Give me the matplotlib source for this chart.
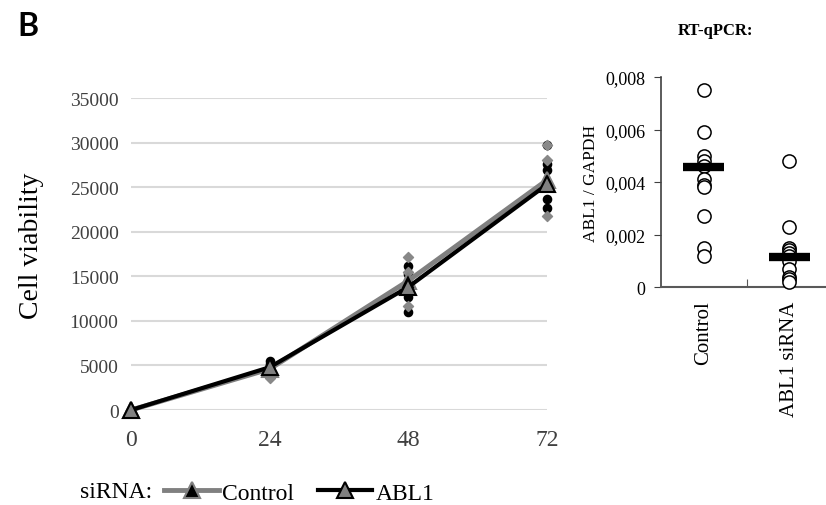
import matplotlib

matplotlib.use("Agg")
import matplotlib.pyplot as plt
from matplotlib.lines import Line2D

plt.rcParams["font.family"] = ["Liberation Serif", "DejaVu Serif"]

# growth curve data
hours = [0, 24, 48, 72]
control_mean = [0, 4600, 14500, 25800]
abl1_mean = [0, 4800, 13800, 25300]

control_points = {
    0: [0, 0, 0],
    24: [3600, 4200, 4500],
    48: [17200, 15500, 11700],
    72: [29700, 28000, 21800],
}
abl1_points = {
    0: [0, 0, 0, 0],
    24: [5500, 5200, 4900, 4600],
    48: [16200, 15300, 12700, 11000],
    72: [29700, 27600, 26900, 23700, 22700],
}

# RT-qPCR data
groups = ["Control", "ABL1 siRNA"]
qpcr_control = [0.0075, 0.0059, 0.0050, 0.0048, 0.0046, 0.0041, 0.0039, 0.0038,
                0.0027, 0.0015, 0.0012]
qpcr_abl1 = [0.0048, 0.0023, 0.0015, 0.0014, 0.0013, 0.0012, 0.0010, 0.0007,
             0.0004, 0.0003, 0.0002]
qpcr_bar = [0.00456, 0.00113]

fig = plt.figure(figsize=(8.26, 5.06), dpi=100)

# left panel
ax = fig.add_axes([0.1586, 0.1877, 0.5036, 0.6166])
for spine in ax.spines.values():
    spine.set_visible(False)
ax.set_xlim(0, 72)
ax.set_ylim(0, 35000)
ax.set_yticks(range(0, 35001, 5000))
ax.set_xticks(hours)
ax.yaxis.grid(True, color="#d9d9d9", lw=1.5)
ax.set_axisbelow(True)
ax.tick_params(length=0)
ax.tick_params(axis="y", labelsize=14, labelcolor="#404040", pad=9)
ax.tick_params(axis="x", labelsize=17, labelcolor="#404040", pad=14)
ax.set_ylabel("Cell viability", fontsize=20)
ax.yaxis.set_label_coords(-0.21, 0.53)

for h in hours:
    ax.scatter([h] * len(abl1_points[h]), abl1_points[h], s=35, marker="o",
               color="black", zorder=3, clip_on=False)
    ax.scatter([h] * len(control_points[h]), control_points[h], s=26, marker="D",
               color="#888888", zorder=4, clip_on=False)

ax.plot(hours, control_mean, color="#808080", lw=3.5, marker="^", ms=11,
        mfc="black", mec="#808080", mew=1.5, zorder=5, clip_on=False)
ax.plot(hours, abl1_mean, color="black", lw=3, marker="^", ms=11,
        mfc="#808080", mec="black", mew=1.5, zorder=6, clip_on=False)

# legend
fig.text(0.097, 0.016, "siRNA:", fontsize=17, va="baseline")
handles = [
    Line2D([], [], color="#808080", lw=3.5, marker="^", ms=11, mfc="black",
           mec="#808080", mew=1.5),
    Line2D([], [], color="black", lw=3, marker="^", ms=11, mfc="#808080",
           mec="black", mew=1.5),
]
fig.legend(handles, ["Control", "ABL1"], loc="center left",
           bbox_to_anchor=(0.199, 0.024), ncol=2, frameon=False, fontsize=17,
           handlelength=2.3, handletextpad=0.15, columnspacing=1.0,
           borderaxespad=0, borderpad=0)

# right panel
ax2 = fig.add_axes([0.8002, 0.4308, 0.2, 0.415])
ax2.set_xlim(0, 1.93)
ax2.set_ylim(0, 0.008)
ax2.spines["top"].set_visible(False)
ax2.spines["right"].set_visible(False)
ax2.spines["left"].set_color("#404040")
ax2.spines["bottom"].set_color("#595959")
ax2.spines["left"].set_linewidth(1.2)
ax2.spines["bottom"].set_linewidth(1.5)
ax2.set_yticks([0, 0.002, 0.004, 0.006, 0.008])
ax2.set_yticklabels(["0", "0,002", "0,004", "0,006", "0,008"])
ax2.tick_params(axis="y", labelsize=13, length=5, pad=6, direction="out",
                color="#404040")
ax2.set_xticks([1.0])
ax2.set_xticklabels([])
ax2.tick_params(axis="x", length=6, direction="in", color="#595959")
ax2.set_ylabel("ABL1 / GAPDH", fontsize=12.5, labelpad=5)

for i, vals in enumerate([qpcr_control, qpcr_abl1]):
    x = i + 0.5
    ax2.scatter([x] * len(vals), vals, s=90, facecolors="white",
                edgecolors="black", lw=1.1, zorder=3, clip_on=False)
    ax2.plot([x - 0.24, x + 0.24], [qpcr_bar[i]] * 2, color="black", lw=6,
             solid_capstyle="butt", zorder=4)
    ax2.text(x, -0.0005, groups[i], rotation=90, ha="center", va="top",
             fontsize=15)

fig.text(0.82, 0.93, "RT-qPCR:", fontsize=12, fontweight="bold")
fig.text(0.021, 0.928, "B", fontsize=23, fontweight="bold", family="Lato")

fig.savefig("out.png", dpi=100)
plt.close(fig)
